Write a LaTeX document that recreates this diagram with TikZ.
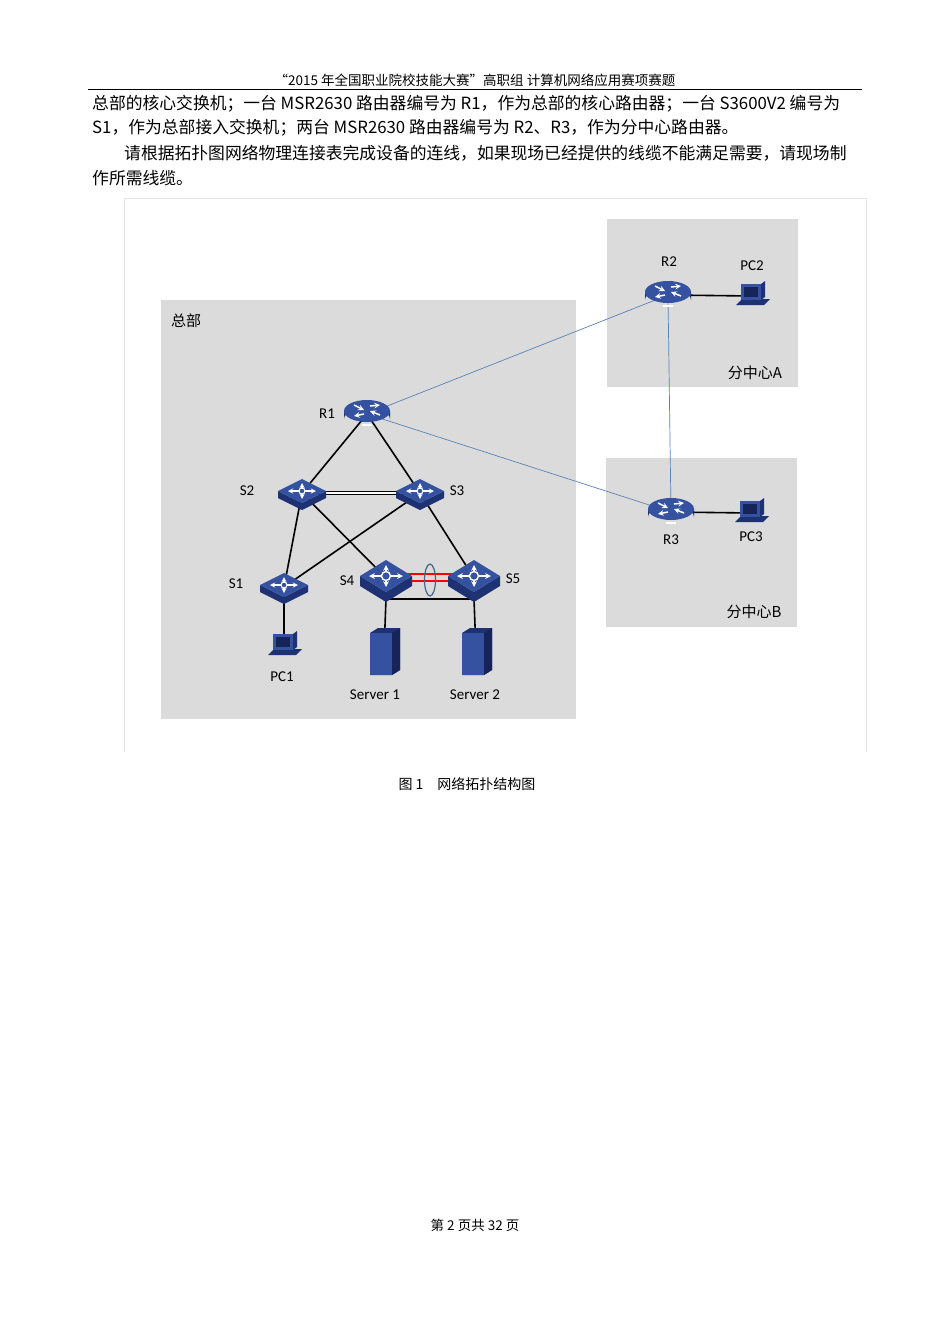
\documentclass[tikz,border=0pt]{standalone}
\usepackage{fontspec}
\usetikzlibrary{shapes.geometric}
\setmainfont{Liberation Serif}
\newfontfamily\cjk{Noto Sans CJK SC}
\newfontfamily\lab{Carlito}
\definecolor{icontop}{RGB}{52,82,160}
\definecolor{iconside}{RGB}{30,50,115}
\definecolor{icondark}{RGB}{22,36,90}
\begin{document}
\begin{tikzpicture}[x=1pt,y=-1pt,
  body/.style={anchor=west,inner sep=0pt,font=\cjk\fontsize{16.8}{16.8}\selectfont},
  lbl/.style={inner sep=0pt,font=\lab\fontsize{15}{15}\selectfont},
  site/.style={fill=black!14,draw=none},
  dev/.style={circle,minimum size=8pt,inner sep=0pt,draw=none},
  lan/.style={black,line width=1.6pt},
  wan/.style={color={rgb,255:red,90;green,130;blue,180},line width=0.7pt},
  pics/router/.style={code={
    \fill[iconside] (-23,-3) -- (-23,5) arc[x radius=23,y radius=11,start angle=180,end angle=360] -- (23,-3) -- cycle;
    \fill[icontop] (0,-3) ellipse[x radius=23,y radius=11];
    \draw[white,line width=1.5pt,-stealth] (-13,-9)--(-3,-4);
    \draw[white,line width=1.5pt,-stealth] (13,1)--(3,-3);
    \draw[white,line width=1.5pt,-stealth] (-3,0)--(-13,2);
    \draw[white,line width=1.5pt,-stealth] (3,-8)--(13,-9);
    \fill[white] (-5,10) rectangle (5,11.5);}},
  pics/switch/.style={code={
    \fill[iconside] (-24,-2) -- (-24,5) -- (0,17) -- (24,5) -- (24,-2) -- (0,10) -- cycle;
    \fill[icontop] (-24,-2) -- (0,-14) -- (24,-2) -- (0,10) -- cycle;
    \draw[white,line width=1.3pt,stealth-stealth] (-14,-2)--(14,-2);
    \draw[white,line width=1.3pt,stealth-stealth] (0,-10)--(0,6);
    \fill[icontop] (0,-2) circle (3);
    \draw[white,line width=1.1pt] (0,-2) circle (3);}},
  pics/lthree/.style={code={
    \fill[iconside] (-26,-2) -- (-26,8) -- (0,24) -- (26,8) -- (26,-2) -- (0,14) -- cycle;
    \fill[icontop] (-26,-2) -- (0,-18) -- (26,-2) -- (0,14) -- cycle;
    \draw[white,line width=1.6pt,stealth-stealth] (-17,-2)--(17,-2);
    \draw[white,line width=1.6pt,stealth-stealth] (0,-13)--(0,9);
    \fill[icontop] (0,-2) circle (4.5);
    \draw[white,line width=1.4pt] (0,-2) circle (4.5);}},
  pics/server/.style={code={
    \fill[iconside] (-14,-19) -- (-6,-24) -- (16,-24) -- (16,18) -- (8,23) -- (-14,23) -- cycle;
    \fill[icontop] (-14,-19) rectangle (8,23);
    \fill[icondark] (8,-19) -- (16,-24) -- (16,18) -- (8,23) -- cycle;}},
  pics/pc/.style={code={
    \fill[iconside] (-16,9) -- (12,9) -- (18,3) -- (-10,3) -- cycle;
    \fill[icontop] (-11,-12) rectangle (9,4);
    \fill[icondark] (-8,-9) rectangle (6,1);
    \fill[iconside] (9,-12) -- (13,-15) -- (13,1) -- (9,4) -- cycle;}}
]
\useasboundingbox (0,0) rectangle (950,1344);
\fill[white] (0,0) rectangle (950,1344);
% header
\node[inner sep=0pt,font=\cjk\fontsize{13.5}{13.5}\selectfont] (hdr) at (475,80) {“2015 年全国职业院校技能大赛”高职组\ 计算机网络应用赛项赛题};
\draw[line width=1pt] (88,89) -- (862,89);
\node[body] (t1) at (92,104) {总部的核心交换机；一台 MSR2630 路由器编号为 R1，作为总部的核心路由器；一台 S3600V2 编号为};
\node[body] (t2) at (92,128) {S1，作为总部接入交换机；两台 MSR2630 路由器编号为 R2、R3，作为分中心路由器。};
\node[body] (t3) at (124,153) {请根据拓扑图网络物理连接表完成设备的连线，如果现场已经提供的线缆不能满足需要，请现场制};
\node[body] (t4) at (92,178) {作所需线缆。};
% frame
\draw[black!10,line width=0.6pt] (124,752) -- (124,198) -- (866,198) -- (866,752);
\fill[site] (161,300) rectangle (576,719);
\fill[site] (607,219) rectangle (798,387);
\fill[site] (606,458) rectangle (797,627);
\node[lbl,font=\cjk\fontsize{15}{15}\selectfont] (hq) at (186,321) {总部};
\node[lbl,font=\cjk\fontsize{15}{15}\selectfont] (ca) at (755,373) {分中心A};
\node[lbl,font=\cjk\fontsize{15}{15}\selectfont] (cb) at (754,612) {分中心B};
% devices
\node[dev] (R1) at (367,414) {};
\node[dev] (R2) at (668,295) {};
\node[dev] (R3) at (671,512) {};
\node[dev] (PC2) at (752,296) {};
\node[dev] (PC3) at (751,513) {};
\node[dev] (S2) at (302,493) {};
\node[dev] (S3) at (420,493) {};
\node[dev] (S1) at (284,587) {};
\node[dev] (S4) at (386,578) {};
\node[dev] (S5) at (474,578) {};
\node[dev] (PC1) at (284,646) {};
\node[dev] (SV1) at (384,652) {};
\node[dev] (SV2) at (476,652) {};
\coordinate (b4) at (386,599);
\coordinate (b5) at (474,599);
% links
\draw[wan] (R1) -- (R2);
\draw[wan] (R1) -- (R3);
\draw[wan] (R2) -- (R3);
\draw[lan] (R2) -- (PC2);
\draw[lan] (R3) -- (PC3);
\draw[lan] (R1) -- (S2);
\draw[lan] (R1) -- (S3);
\draw[black,line width=1.1pt,double distance=2.5pt] (S2) -- (S3);
\draw[lan] (S2) -- (S1);
\draw[lan] (S3) -- (S1);
\draw[lan] (S2) -- (S4);
\draw[lan] (S3) -- (S5);
\draw[lan] (S1) -- (PC1);
\draw[lan] (b4) -- (b5);
\draw[lan] (b4) -- (SV1);
\draw[lan] (b5) -- (SV2);
\draw[red,line width=1.6pt] ([yshift=-3pt]S4.center) -- ([yshift=-3pt]S5.center);
\draw[red,line width=1.6pt] ([yshift=4pt]S4.center) -- ([yshift=4pt]S5.center);
% icons
\pic at (R1) {router}; \pic at (R2) {router}; \pic at (R3) {router};
\pic at (S1) {switch}; \pic at (S2) {switch}; \pic at (S3) {switch};
\pic at (S4) {lthree}; \pic at (S5) {lthree};
\pic at (SV1) {server}; \pic at (SV2) {server};
\pic at (PC1) {pc}; \pic at (PC2) {pc}; \pic at (PC3) {pc};
\node[draw={rgb,255:red,70;green,100;blue,140},line width=1.2pt,ellipse,minimum width=11pt,minimum height=32pt,inner sep=0pt] (lag) at (430,580) {};
% labels
\node[lbl] (lR1) at (327,414) {R1};
\node[lbl] (lR2) at (669,262) {R2};
\node[lbl] (lPC2) at (752,266) {PC2};
\node[lbl] (lR3) at (671,540) {R3};
\node[lbl] (lPC3) at (751,537) {PC3};
\node[lbl] (lS2) at (247,491) {S2};
\node[lbl] (lS3) at (457,491) {S3};
\node[lbl] (lS1) at (236,584) {S1};
\node[lbl] (lS4) at (347,581) {S4};
\node[lbl] (lS5) at (513,579) {S5};
\node[lbl] (lPC1) at (282,677) {PC1};
\node[lbl] (lSV1) at (375,695) {Server 1};
\node[lbl] (lSV2) at (475,695) {Server 2};
\node[inner sep=0pt,font=\cjk\fontsize{14}{14}\selectfont] (cap) at (467,784) {图 1\quad 网络拓扑结构图};
\node[inner sep=0pt,font=\cjk\fontsize{13.5}{13.5}\selectfont] (ftr) at (475,1225) {第 2 页共 32 页};
\end{tikzpicture}
\end{document}
